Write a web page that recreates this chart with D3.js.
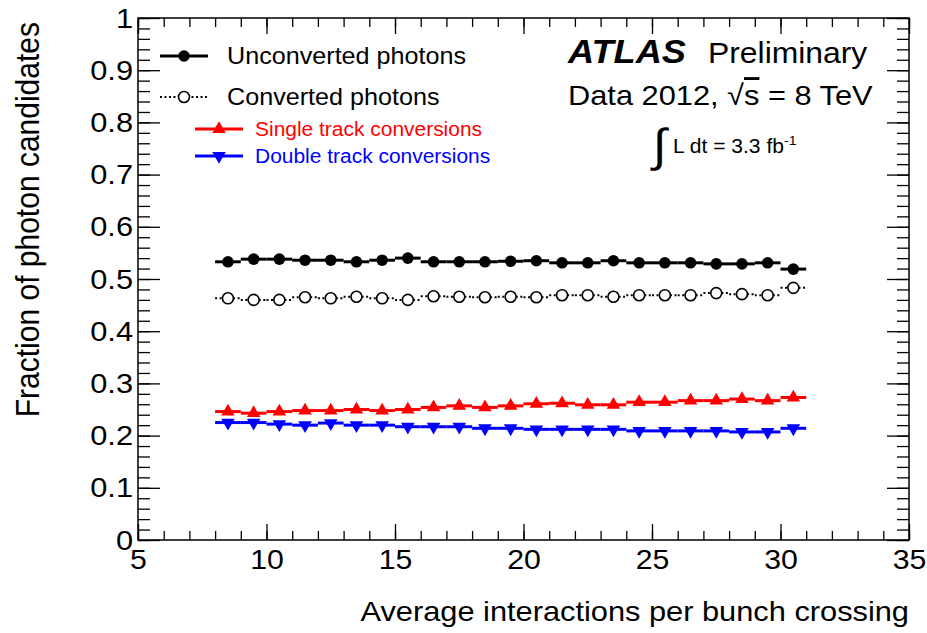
<!DOCTYPE html>
<html><head><meta charset="utf-8">
<script src="https://cdn.jsdelivr.net/npm/d3@7"></script>
<style>
body{margin:0;background:#fff}
svg{display:block}
text{font-family:"Liberation Sans",Arial,Helvetica,sans-serif}
</style>
</head><body>
<svg id="c" width="927" height="633"></svg>
<script>
// ---- data ----
const binCenters = [8.5,9.5,10.5,11.5,12.5,13.5,14.5,15.5,16.5,17.5,18.5,19.5,20.5,21.5,22.5,23.5,24.5,25.5,26.5,27.5,28.5,29.5,30.5];
const unconverted = [0.533,0.538,0.538,0.536,0.536,0.533,0.536,0.540,0.533,0.533,0.533,0.534,0.535,0.531,0.531,0.535,0.531,0.531,0.531,0.529,0.529,0.531,0.519];
const converted   = [0.463,0.460,0.460,0.465,0.463,0.466,0.463,0.460,0.467,0.466,0.465,0.466,0.465,0.469,0.469,0.466,0.469,0.469,0.469,0.473,0.471,0.469,0.483];
const singleTrack = [0.246,0.243,0.246,0.248,0.248,0.250,0.248,0.250,0.254,0.257,0.254,0.257,0.261,0.262,0.259,0.259,0.264,0.264,0.267,0.267,0.270,0.267,0.273];
const doubleTrack = [0.225,0.225,0.222,0.220,0.224,0.220,0.220,0.217,0.217,0.217,0.214,0.214,0.212,0.212,0.212,0.212,0.209,0.209,0.209,0.209,0.207,0.207,0.214];
const binHalfWidth = 0.5;
const xTickValues = [5,10,15,20,25,30,35];
const yTickValues = [0,0.1,0.2,0.3,0.4,0.5,0.6,0.7,0.8,0.9,1];
const yTickLabels = ["0","0.1","0.2","0.3","0.4","0.5","0.6","0.7","0.8","0.9","1"];
const seriesNames = ["Unconverted photons","Converted photons","Single track conversions","Double track conversions"];
const xTitle = "Average interactions per bunch crossing";
const yTitle = "Fraction of photon candidates";

// ---- layout ----
const W=927,H=633,L=138,R=909,T=18,B=540;
const SX=1.08;
const svg=d3.select("#c");
svg.append("rect").attr("width",W).attr("height",H).attr("fill","#fff");
const x=d3.scaleLinear().domain([5,35]).range([L,R]);
const y=d3.scaleLinear().domain([0,1]).range([B,T]);

const xMinor=d3.range(5,35.001,1);
const yMinor=d3.range(0,1.0001,0.02);

function styleAxis(g){g.select(".domain").remove();g.selectAll("line").attr("stroke","#000").attr("stroke-width",1.3);}

// bottom
svg.append("g").attr("transform",`translate(0,${B})`)
  .call(d3.axisBottom(x).tickValues(xMinor).tickSize(-9).tickFormat("")).call(styleAxis);
const gxb=svg.append("g").attr("transform",`translate(0,${B})`)
  .call(d3.axisBottom(x).tickValues(xTickValues).tickSize(-16).tickPadding(9).tickFormat(d3.format("d"))).call(styleAxis);
gxb.selectAll("text").attr("font-size",28).attr("fill","#000").attr("transform",`scale(${SX},1)`);
// top
svg.append("g").attr("transform",`translate(0,${T})`)
  .call(d3.axisTop(x).tickValues(xMinor).tickSize(-9).tickFormat("")).call(styleAxis);
svg.append("g").attr("transform",`translate(0,${T})`)
  .call(d3.axisTop(x).tickValues(xTickValues).tickSize(-16).tickFormat("")).call(styleAxis);
// left
svg.append("g").attr("transform",`translate(${L},0)`)
  .call(d3.axisLeft(y).tickValues(yMinor).tickSize(-12).tickFormat("")).call(styleAxis);
const gyl=svg.append("g").attr("transform",`translate(${L},0)`)
  .call(d3.axisLeft(y).tickValues(yTickValues).tickSize(-22).tickPadding(5/SX).tickFormat((d,i)=>yTickLabels[i])).call(styleAxis);
gyl.selectAll("text").attr("font-size",28.5).attr("fill","#000").attr("transform",`scale(${SX},1)`);
// right
svg.append("g").attr("transform",`translate(${R},0)`)
  .call(d3.axisRight(y).tickValues(yMinor).tickSize(-12).tickFormat("")).call(styleAxis);
svg.append("g").attr("transform",`translate(${R},0)`)
  .call(d3.axisRight(y).tickValues(yTickValues).tickSize(-22).tickFormat("")).call(styleAxis);

// frame
svg.append("rect").attr("x",L).attr("y",T).attr("width",R-L).attr("height",B-T)
  .attr("fill","none").attr("stroke","#000").attr("stroke-width",1.5);

function txt(px,py,str,size,opts={}){
  const t=svg.append("text")
    .attr("transform",`translate(${px},${py}) scale(${SX},1)${opts.rot?` rotate(${opts.rot})`:""}`)
    .attr("font-size",size).attr("text-anchor",opts.anchor||"start")
    .attr("fill",opts.fill||"#000");
  if(opts.weight)t.attr("font-weight",opts.weight);
  if(opts.style)t.attr("font-style",opts.style);
  t.text(str);
  return t;
}

// titles
txt(R,621,xTitle,28.5,{anchor:"end"});
txt(39,22,yTitle,30,{anchor:"end",rot:-90});

// ---- series ----
const series=[
  {name:seriesNames[0],vals:unconverted,color:"#000",width:3,dash:null,marker:"dot"},
  {name:seriesNames[1],vals:converted,color:"#000",width:2,dash:"2,2.5",marker:"open"},
  {name:seriesNames[2],vals:singleTrack,color:"#ff0000",width:3,dash:null,marker:"up"},
  {name:seriesNames[3],vals:doubleTrack,color:"#0000ff",width:3,dash:null,marker:"down"}
];
const triUp=d3.symbol().type(d3.symbolTriangle).size(80)();
function drawMarker(g,kind,color,cx,cy){
  if(kind==="dot") g.append("circle").attr("cx",cx).attr("cy",cy).attr("r",5.8).attr("fill",color);
  else if(kind==="open") g.append("circle").attr("cx",cx).attr("cy",cy).attr("r",5.5).attr("fill","#fff").attr("stroke",color).attr("stroke-width",1.6);
  else if(kind==="up") g.append("path").attr("d",triUp).attr("transform",`translate(${cx},${cy})`).attr("fill",color);
  else g.append("path").attr("d",triUp).attr("transform",`translate(${cx},${cy}) rotate(180)`).attr("fill",color);
}
series.forEach(s=>{
  const g=svg.append("g");
  g.selectAll("line").data(s.vals).join("line")
    .attr("x1",(d,i)=>x(binCenters[i]-binHalfWidth)).attr("x2",(d,i)=>x(binCenters[i]+binHalfWidth))
    .attr("y1",d=>y(d)).attr("y2",d=>y(d))
    .attr("stroke",s.color).attr("stroke-width",s.width).attr("stroke-dasharray",s.dash);
  s.vals.forEach((v,i)=>drawMarker(g,s.marker,s.color,x(binCenters[i]),y(v)));
});

// ---- legend ----
const leg=[
  {s:series[0],x1:160,x2:208,y:56,tx:227,size:23.3},
  {s:series[1],x1:160,x2:208,y:97,tx:227,size:23.3},
  {s:series[2],x1:195,x2:243,y:129,tx:255,size:19.4},
  {s:series[3],x1:195,x2:243,y:156,tx:255,size:19.4}
];
leg.forEach(l=>{
  const g=svg.append("g");
  g.append("line").attr("x1",l.x1).attr("x2",l.x2).attr("y1",l.y).attr("y2",l.y)
    .attr("stroke",l.s.color).attr("stroke-width",l.s.width).attr("stroke-dasharray",l.s.dash);
  drawMarker(g,l.s.marker,l.s.color,(l.x1+l.x2)/2,l.y);
  txt(l.tx,l.y+l.size*0.36,l.s.name,l.size,{fill:l.s.color});
});

// ---- ATLAS label ----
txt(568,63,"ATLAS",33.5,{weight:"bold",style:"italic"});
txt(708,63,"Preliminary",29.5);
const dt=txt(568,105,"Data 2012, √",28.5);
dt.append("tspan").attr("text-decoration","overline").text("s");
dt.append("tspan").text(" = 8 TeV");
txt(653,161,"∫",46,{});
const lt=txt(673,153,"L dt = 3.3 fb",19.5);
lt.append("tspan").attr("dy",-8).attr("font-size",13).text("-1");
</script>
</body></html>
